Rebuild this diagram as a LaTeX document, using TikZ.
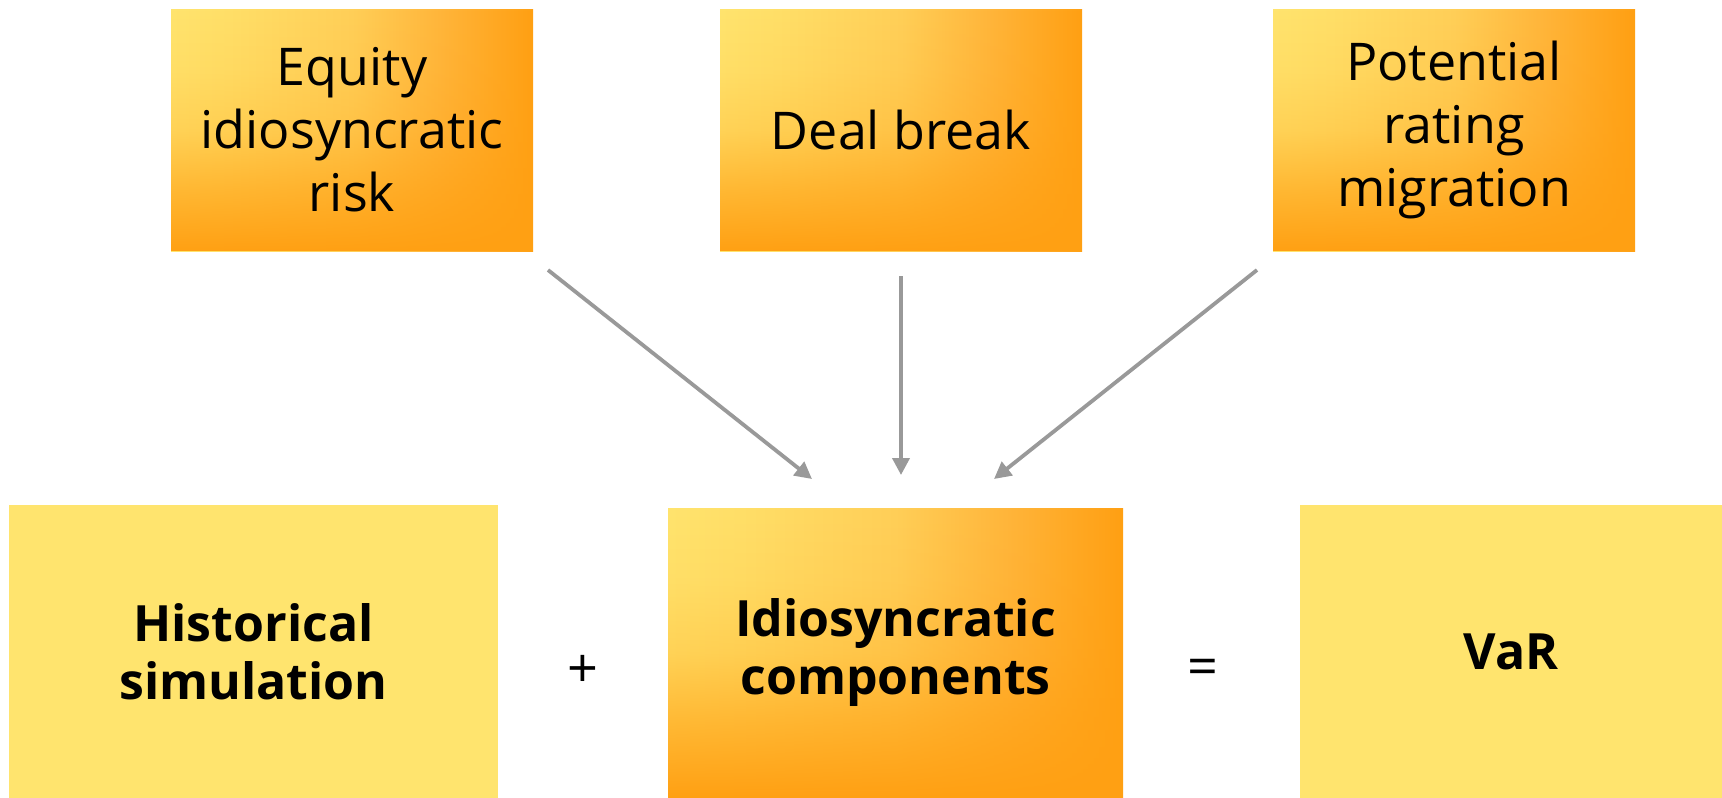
\documentclass[tikz,border=0pt]{standalone}
\usepackage{fontspec}
\setmainfont{Open Sans}
\usetikzlibrary{arrows.meta,fadings}

\definecolor{paleyellow}{HTML}{FFE46E}
\definecolor{softyellow}{HTML}{FFDF68}
\definecolor{midamber}{HTML}{FFCF58}
\definecolor{lateamber}{HTML}{FFB53A}
\definecolor{deeporange}{HTML}{FFA013}
\definecolor{arrowgray}{HTML}{999999}

% left-to-right warm ramp (the filled path spans 25bp..75bp of a shading)
\pgfdeclarehorizontalshading{warmramp}{100bp}{%
  color(0bp)=(paleyellow); color(25bp)=(paleyellow);
  color(33bp)=(softyellow); color(50bp)=(midamber);
  color(62.5bp)=(lateamber); color(75bp)=(deeporange);
  color(100bp)=(deeporange)}

% opacity ramp for the orange veil: solid at the bottom, clear at the top
\pgfdeclareverticalshading{veilramp}{100bp}{%
  color(0bp)=(white); color(25bp)=(white);
  color(37.5bp)=(black!35); color(50bp)=(black!74);
  color(62.5bp)=(black!92); color(75bp)=(black);
  color(100bp)=(black)}
\begin{tikzfadingfrompicture}[name=veil]
  \shade[shading=veilramp] (-25bp,-25bp) rectangle (25bp,25bp);
\end{tikzfadingfrompicture}

\begin{document}
\begin{tikzpicture}[x=1pt,y=-1pt,
  box/.style={rectangle, inner sep=0pt, align=center, text=black},
  warm/.style={path picture={
      \shade[shading=warmramp]
        (path picture bounding box.south west) rectangle (path picture bounding box.north east);
      \fill[deeporange, path fading=veil]
        (path picture bounding box.south west) rectangle (path picture bounding box.north east);
    }},
  sourcebox/.style={box, warm, minimum width=362pt, minimum height=242pt,
    font=\fontsize{52}{63}\selectfont},
  resultbox/.style={box, minimum height=293pt,
    font=\fontsize{50}{58}\selectfont\bfseries},
  opsign/.style={inner sep=0pt, font=\fontsize{54}{63}\selectfont},
  feed/.style={draw=arrowgray, line width=3.8pt,
    -{Triangle[length=17pt,width=17pt]}}
]
\useasboundingbox (0,0) rectangle (1722,798);

% three sources of idiosyncratic risk
\node[sourcebox] (equity)  at (352,130)    {Equity\\idiosyncratic\\risk};
\node[sourcebox] (deal)    at (901,130)    {Deal break};
\node[sourcebox] (rating)  at (1454,130)   {Potential\\rating\\migration};

% the VaR equation
\node[resultbox, fill=paleyellow, minimum width=489pt] (hist) at (253.5,651.5)
  {Historical\\simulation};
\node[resultbox, warm, minimum width=455pt, minimum height=290pt] (idio) at (895.5,653)
  {Idiosyncratic\\components};
\node[resultbox, fill=paleyellow, minimum width=422pt] (var) at (1511,651.5)
  {VaR};
\node[opsign] (plus)   at (583,671)  {+};
\node[opsign] (equals) at (1203,672) {=};

% arrow ends above the components box
\coordinate (eqs) at (548,270);
\coordinate (eqe) at (812,479);
\coordinate (dls) at (901,276);
\coordinate (dle) at (901,475);
\coordinate (rts) at (1257,270);
\coordinate (rte) at (994,479);

\draw[feed] (eqs) -- (eqe);
\draw[feed] (dls) -- (dle);
\draw[feed] (rts) -- (rte);
\end{tikzpicture}
\end{document}
